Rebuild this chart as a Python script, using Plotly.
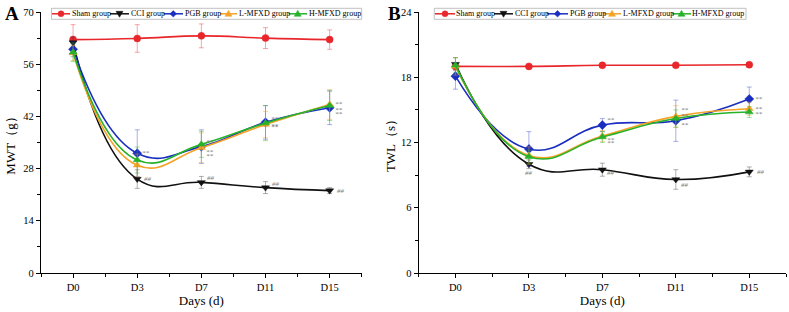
import plotly.graph_objects as go

# ---------------- data ----------------
categories = ["D0", "D3", "D7", "D11", "D15"]
groups = ["Sham group", "CCI group", "PGB group", "L-MFXD group", "H-MFXD group"]

mwt_sham = [62.6, 62.9, 63.6, 63.0, 62.6]
mwt_cci = [61.8, 25.2, 24.3, 22.9, 22.1]
mwt_pgb = [60.0, 32.1, 33.9, 40.4, 44.3]
mwt_l = [59.0, 28.9, 33.6, 39.8, 45.2]
mwt_h = [59.2, 30.3, 34.5, 40.2, 44.9]
mwt_sham_err = [4.0, 3.7, 3.2, 2.8, 2.6]
mwt_cci_err = [1.5, 2.5, 1.6, 1.6, 0.8]
mwt_pgb_err = [2.0, 6.3, 4.5, 4.5, 4.5]
mwt_l_err = [2.0, 3.0, 4.0, 3.5, 4.0]
mwt_h_err = [2.5, 3.5, 3.5, 4.7, 4.0]

twl_sham = [19.0, 19.0, 19.1, 19.1, 19.15]
twl_cci = [19.2, 10.0, 9.5, 8.6, 9.3]
twl_pgb = [18.1, 11.4, 13.6, 14.0, 16.0]
twl_l = [19.0, 10.8, 12.6, 14.4, 15.1]
twl_h = [19.1, 10.7, 12.5, 14.2, 14.8]
twl_sham_err = [0.3, 0.2, 0.2, 0.2, 0.2]
twl_cci_err = [0.6, 0.4, 0.6, 0.9, 0.45]
twl_pgb_err = [1.2, 1.6, 0.6, 1.9, 1.1]
twl_l_err = [0.8, 0.8, 0.5, 1.0, 0.6]
twl_h_err = [0.7, 0.6, 0.5, 0.8, 0.5]

mwt_ticks = [0, 14, 28, 42, 56, 70]
twl_ticks = [0, 6, 12, 18, 24]

# ---------------- style ----------------
colors = ["#e8262b", "#111111", "#1a2fc0", "#f5a228", "#27b22a"]
err_colors = ["rgba(232,38,43,0.45)", "rgba(60,60,60,0.45)", "rgba(40,60,200,0.45)",
              "rgba(245,162,40,0.5)", "rgba(39,178,42,0.45)"]
symbols = ["circle", "triangle-down", "diamond", "triangle-up", "triangle-up"]
FONT = "Liberation Serif, Times New Roman, serif"

W, H = 789, 312
ML, MR, MT, MB = 41, 3, 12, 39
PW, PH = W - ML - MR, H - MT - MB


def px2x(px):
    return (px - ML) / PW


def py2y(py):
    return (H - MB - py) / PH


xidx = list(range(len(categories)))
fig = go.Figure()

panels = [
    ("x", "y", [mwt_sham, mwt_cci, mwt_pgb, mwt_l, mwt_h],
     [mwt_sham_err, mwt_cci_err, mwt_pgb_err, mwt_l_err, mwt_h_err]),
    ("x2", "y2", [twl_sham, twl_cci, twl_pgb, twl_l, twl_h],
     [twl_sham_err, twl_cci_err, twl_pgb_err, twl_l_err, twl_h_err]),
]

for xa, ya, series, errs in panels:
    for i, (vals, err) in enumerate(zip(series, errs)):
        fig.add_trace(go.Scatter(
            x=xidx, y=vals, xaxis=xa, yaxis=ya, mode="lines+markers",
            name=groups[i], showlegend=False, hoverinfo="skip",
            line=dict(color=colors[i], width=1.6, shape="spline", smoothing=1.3),
            marker=dict(symbol=symbols[i], size=7, color=colors[i],
                        line=dict(color=colors[i], width=0.5)),
            error_y=dict(type="data", array=err, color=err_colors[i],
                         thickness=0.9, width=2.5),
        ))

axis_common = dict(
    showline=True, linecolor="black", linewidth=1.2, showgrid=False, zeroline=False,
    ticks="outside", ticklen=4, tickwidth=1, tickcolor="black", automargin=False,
    tickfont=dict(family=FONT, size=10.5, color="black"),
)
minor_x = dict(tickmode="array", tickvals=[i - 0.5 for i in range(len(categories) + 1)],
               ticks="outside", ticklen=3, tickcolor="black", tickwidth=1)

fig.update_layout(
    width=W, height=H,
    margin=dict(l=ML, r=MR, t=MT, b=MB),
    plot_bgcolor="white", paper_bgcolor="white",
    showlegend=False,
    font=dict(family=FONT, color="black"),
    xaxis=dict(axis_common, domain=[0, 0.4305], range=[-0.5, 4.5], anchor="y",
               tickmode="array", tickvals=xidx, ticktext=categories, minor=minor_x,
               title=dict(text="Days (d)", font=dict(family=FONT, size=13), standoff=0)),
    yaxis=dict(axis_common, domain=[0, 1], range=[0, 70], anchor="x",
               tickmode="array", tickvals=mwt_ticks,
               minor=dict(dtick=7, tick0=0, ticks="outside", ticklen=3, tickcolor="black"),
               title=dict(text="MWT（g）", font=dict(family=FONT, size=13), standoff=4)),
    xaxis2=dict(axis_common, domain=[0.507, 1], range=[-0.5, 4.5], anchor="y2",
                tickmode="array", tickvals=xidx, ticktext=categories, minor=minor_x,
                title=dict(text="Days (d)", font=dict(family=FONT, size=13), standoff=0)),
    yaxis2=dict(axis_common, domain=[0, 1], range=[0, 24], anchor="x2",
                tickmode="array", tickvals=twl_ticks,
                minor=dict(dtick=3, tick0=0, ticks="outside", ticklen=3, tickcolor="black"),
                title=dict(text="TWL（s）", font=dict(family=FONT, size=13), standoff=2)),
)

shapes = []
annotations = []

# ---------------- manual legends ----------------
legend_layout = [
    dict(box=(51.5, 361.7), lines=[(52, 70), (110, 129), (163.5, 183), (220, 237), (288.5, 307)],
         texts=[71, 130, 184.3, 238.3, 308.3]),
    dict(box=(434.3, 746), lines=[(435, 455), (494, 513), (547, 568), (603, 621), (672, 691)],
         texts=[455.7, 514, 569, 622, 691.7]),
]
LY0, LY1, LYC = 8.3, 19.3, 13.8


def path(pts):
    s = "M " + " L ".join(f"{px2x(a):.5f},{py2y(b):.5f}" for a, b in pts) + " Z"
    return s


for lg in legend_layout:
    shapes.append(dict(type="rect", xref="paper", yref="paper",
                       x0=px2x(lg["box"][0]), x1=px2x(lg["box"][1]),
                       y0=py2y(LY1), y1=py2y(LY0),
                       line=dict(color="#b0b0b0", width=0.8), fillcolor="white"))
    for i, ((a, b), tx) in enumerate(zip(lg["lines"], lg["texts"])):
        shapes.append(dict(type="line", xref="paper", yref="paper",
                           x0=px2x(a), x1=px2x(b), y0=py2y(LYC), y1=py2y(LYC),
                           line=dict(color=colors[i], width=1.5)))
        m = (a + b) / 2
        s = 3.0
        if symbols[i] == "circle":
            shapes.append(dict(type="circle", xref="paper", yref="paper",
                               x0=px2x(m - s), x1=px2x(m + s), y0=py2y(LYC + s), y1=py2y(LYC - s),
                               fillcolor=colors[i], line=dict(color=colors[i], width=0.5)))
        else:
            if symbols[i] == "triangle-down":
                pts = [(m - 3.5, LYC - 2.5), (m + 3.5, LYC - 2.5), (m, LYC + 3.5)]
            elif symbols[i] == "diamond":
                pts = [(m, LYC - 3.3), (m + 3.3, LYC), (m, LYC + 3.3), (m - 3.3, LYC)]
            else:
                pts = [(m - 3.5, LYC + 2.5), (m + 3.5, LYC + 2.5), (m, LYC - 3.5)]
            shapes.append(dict(type="path", xref="paper", yref="paper", path=path(pts),
                               fillcolor=colors[i], line=dict(color=colors[i], width=0.5)))
        annotations.append(dict(xref="paper", yref="paper", x=px2x(tx - 1.5), y=py2y(LYC),
                                xanchor="left", yanchor="middle", showarrow=False,
                                text=groups[i], font=dict(family=FONT, size=8, color="black")))

# ---------------- panel letters ----------------
annotations.append(dict(xref="paper", yref="paper", x=px2x(3), y=py2y(14), xanchor="left",
                        yanchor="middle", showarrow=False, text="<b>A</b>",
                        font=dict(family=FONT, size=19, color="black")))
annotations.append(dict(xref="paper", yref="paper", x=px2x(386), y=py2y(14), xanchor="left",
                        yanchor="middle", showarrow=False, text="<b>B</b>",
                        font=dict(family=FONT, size=19, color="black")))

# ---------------- significance marks ----------------
# (panel, series index, point index, text, xshift, yshift)
sig_marks = [
    (0, 1, 1, "##", 11, 0), (0, 1, 2, "##", 10, 4), (0, 1, 3, "##", 10, 4), (0, 1, 4, "##", 11, 0),
    (0, 2, 1, "**", 9, 0),
    (0, 4, 2, "**", 9, 2), (0, 3, 2, "**", 9, -4), (0, 2, 2, "**", 9, -9),
    (0, 4, 3, "**", 9, 4), (0, 3, 3, "**", 9, -1), (0, 2, 3, "**", 9, -5),
    (0, 3, 4, "**", 9, 0), (0, 4, 4, "**", 9, -4), (0, 2, 4, "**", 9, -6),
    (1, 1, 1, "##", 0, -9), (1, 1, 2, "##", 9, -3), (1, 1, 3, "##", 9, -6), (1, 1, 4, "##", 12, 0),
    (1, 2, 2, "**", 9, 5), (1, 4, 2, "**", 9, -3), (1, 3, 2, "**", 9, -7),
    (1, 3, 3, "**", 9, 6), (1, 4, 3, "**", 9, 3), (1, 2, 3, "**", 9, -4),
    (1, 2, 4, "**", 10, 0), (1, 3, 4, "**", 10, 0), (1, 4, 4, "**", 10, -2),
]
panel_series = [panels[0][2], panels[1][2]]
for p, si, pi, txt, xs, ys in sig_marks:
    annotations.append(dict(
        xref="x" if p == 0 else "x2", yref="y" if p == 0 else "y2",
        x=xidx[pi], y=panel_series[p][si][pi], xshift=xs, yshift=ys,
        text=f"<i>{txt}</i>", showarrow=False,
        font=dict(family=FONT, size=7, color="#777777")))

fig.update_layout(shapes=shapes, annotations=annotations)
fig.write_html("out.html", config={"displayModeBar": False},
               post_script="document.body.style.margin='0';document.body.style.padding='0';"
                           "document.body.style.overflow='hidden';")
